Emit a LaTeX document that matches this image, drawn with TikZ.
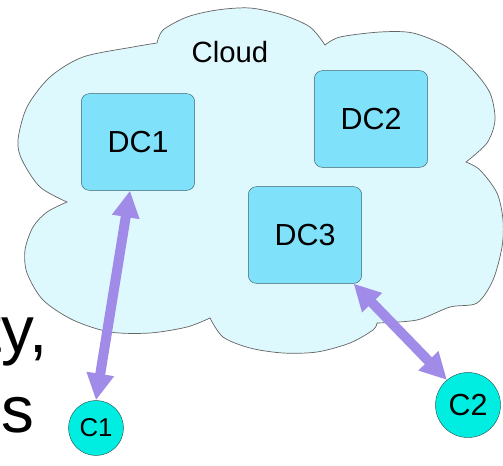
\documentclass[tikz,border=0pt]{standalone}
\usepackage{fontspec}
\setmainfont{Liberation Sans}
\usetikzlibrary{arrows.meta}
\definecolor{cloudfill}{RGB}{222,249,254}
\definecolor{cloudline}{RGB}{100,100,100}
\definecolor{dcfill}{RGB}{128,225,250}
\definecolor{dcline}{RGB}{60,100,112}
\definecolor{clientfill}{RGB}{0,238,226}
\definecolor{clientline}{RGB}{40,90,90}
\definecolor{linkcol}{RGB}{160,140,232}
\begin{document}
\begin{tikzpicture}[
        x=0.03cm, y=-0.03cm,
        dc/.style={rectangle, draw=dcline, fill=dcfill, rounded corners=0.24cm, minimum width=3.4cm, minimum height=2.9cm, font=\fontsize{26pt}{26pt}\selectfont},
        client/.style={circle, draw=clientline, fill=clientfill, minimum size=1.65cm, inner sep=0pt, font=\fontsize{22pt}{22pt}\selectfont},
        link/.style={{Triangle[width=0.78cm,length=0.8cm]}-{Triangle[width=0.78cm,length=0.8cm]}, line width=8.5pt, draw=linkcol},
        bigtext/.style={anchor=base east, inner sep=0pt, font=\fontsize{56pt}{56pt}\selectfont}
      ]
        \clip (0,0) rectangle (503,465);

        % Cloud
        \filldraw[fill=cloudfill, draw=cloudline, semithick]
          (157,43) -- plot[smooth] coordinates {(157,43) (163,30) (187,17) (217,10) (250,8) (283,15) (310,27) (325,45)}
          -- plot[smooth] coordinates {(325,45) (340,37) (380,32) (413,33) (447,47) (473,70) (490,93) (495,120) (487,143) (466,162)}
          -- plot[smooth] coordinates {(466,162) (480,170) (497,193) (503,220) (502,247) (493,280) (477,303) (450,307) (417,320) (377,323)}
          -- plot[smooth] coordinates {(377,323) (373,330) (350,343) (317,352) (283,353) (250,348) (223,337) (210,318)}
          -- plot[smooth] coordinates {(210,318) (187,327) (150,333) (110,332) (73,320) (43,300) (27,273) (25,250) (33,227) (47,212) (67,202)}
          -- plot[smooth] coordinates {(67,202) (40,187) (22,160) (18,140) (27,107) (50,77) (83,57) (133,47) (157,43)}
          -- cycle;
        \node[font=\fontsize{25pt}{25pt}\selectfont] (cloud) at (230,52) {Cloud};

        % Data centres
        \node[dc] (dc1) at (138,142) {DC1};
        \node[dc] (dc2) at (371,119) {DC2};
        \node[dc] (dc3) at (305,235) {DC3};

        % Clients
        \node[client] (c1) at (96,428) {C1};
        \node[client, minimum size=1.95cm, font=\fontsize{26pt}{26pt}\selectfont] (c2) at (468,405) {C2};

        % Text cut at the edge
        \node[bigtext] (line1) at (48,352) {ty,};
        \node[bigtext] (line2) at (35,432) {s};

        % Links
        \draw[link] ([xshift=-0.24cm]dc1.south) -- (c1.north);
        \draw[link] (dc3.-45) -- (c2.130);
      \end{tikzpicture}
\end{document}
